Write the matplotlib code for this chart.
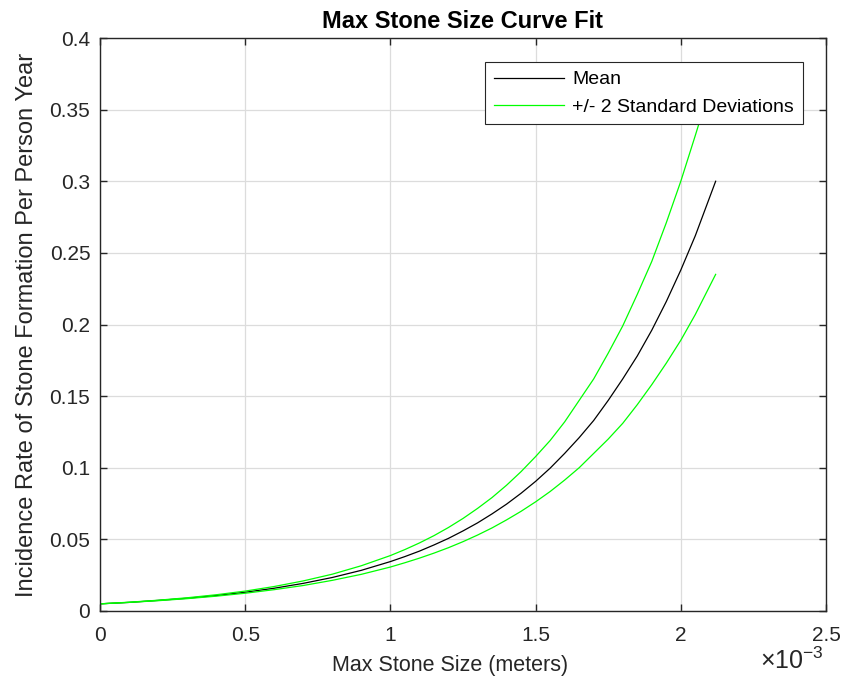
import matplotlib
matplotlib.use("Agg")
import matplotlib.pyplot as plt
from matplotlib.ticker import FuncFormatter

# Data (x in mm, converted to meters)
x_mm = [0, 0.1, 0.2, 0.3, 0.4, 0.5, 0.6, 0.7, 0.8, 0.9, 1.0, 1.05, 1.1, 1.15, 1.2,
        1.25, 1.3, 1.35, 1.4, 1.45, 1.5, 1.55, 1.6, 1.65, 1.7, 1.75, 1.8, 1.85,
        1.9, 1.95, 2.0, 2.05, 2.12]
mean_y = [0.0050, 0.0060, 0.0074, 0.0089, 0.0108, 0.0131, 0.0159, 0.0193, 0.0234,
          0.0284, 0.0345, 0.0380, 0.0418, 0.0461, 0.0507, 0.0559, 0.0615, 0.0678,
          0.0746, 0.0822, 0.0905, 0.0997, 0.110, 0.121, 0.133, 0.147, 0.162,
          0.178, 0.196, 0.216, 0.238, 0.262, 0.300]
upper_y = [0.0050, 0.00614, 0.00753, 0.00924, 0.01134, 0.0139, 0.0171, 0.0210,
           0.0257, 0.0316, 0.0387, 0.0429, 0.0475, 0.0526, 0.0583, 0.0646, 0.0716,
           0.0792, 0.0878, 0.0973, 0.1078, 0.119, 0.132, 0.147, 0.162, 0.180,
           0.199, 0.221, 0.244, 0.271, 0.300, 0.332, 0.378]
lower_y = [0.0050, 0.0060, 0.00719, 0.00862, 0.01034, 0.0124, 0.0149, 0.0178,
           0.0214, 0.0256, 0.0307, 0.0337, 0.0369, 0.0404, 0.0442, 0.0484, 0.0530,
           0.0580, 0.0636, 0.0696, 0.0762, 0.0834, 0.0914, 0.100, 0.110, 0.120,
           0.131, 0.144, 0.158, 0.173, 0.189, 0.207, 0.235]
x_m = [v * 1e-3 for v in x_mm]

xticks = [0, 0.5e-3, 1.0e-3, 1.5e-3, 2.0e-3, 2.5e-3]
yticks = [0, 0.05, 0.1, 0.15, 0.2, 0.25, 0.3, 0.35, 0.4]

plt.rcParams['font.family'] = ['Liberation Sans', 'DejaVu Sans']
plt.rcParams['mathtext.fontset'] = 'custom'
plt.rcParams['mathtext.rm'] = 'Liberation Sans'
plt.rcParams['mathtext.it'] = 'Liberation Sans'
plt.rcParams['mathtext.default'] = 'rm'

TXT = '#262626'
fig = plt.figure(figsize=(8.44, 6.83), dpi=100)
ax = fig.add_axes([100/844, 72/683, 726/844, 573/683])

ax.plot(x_m, mean_y, color='black', lw=0.9, label='Mean')
ax.plot(x_m, upper_y, color='#00ff00', lw=0.9, label='+/- 2 Standard Deviations')
ax.plot(x_m, lower_y, color='#00ff00', lw=0.9)

ax.set_xlim(0, 2.5e-3)
ax.set_ylim(0, 0.4)
ax.set_xticks(xticks)
ax.set_yticks(yticks)
ax.xaxis.set_major_formatter(FuncFormatter(lambda v, p: f"{v*1e3:g}"))
ax.yaxis.set_major_formatter(FuncFormatter(lambda v, p: f"{v:g}"))

ax.grid(True, color='#dcdcdc', lw=0.9)
ax.set_axisbelow(True)
ax.tick_params(direction='in', top=True, right=True, length=5, width=1.0,
               colors=TXT, labelsize=15)
ax.tick_params(axis='y', pad=7)
ax.tick_params(axis='x', pad=11)
for s in ax.spines.values():
    s.set_color(TXT)
    s.set_linewidth(1.0)

fig.text(463/844, 1 - 28/683, 'Max Stone Size Curve Fit', ha='center',
         va='baseline', fontsize=17, fontweight='bold', color='black')
fig.text(450/844, 1 - 665/683, 'Max Stone Size (meters)', ha='center',
         va='center', fontsize=15.5, color=TXT)
fig.text(27/844, 1 - 325/683, 'Incidence Rate of Stone Formation Per Person Year',
         ha='center', va='center', rotation=90, fontsize=17, color=TXT)
fig.text(824/844, 1 - 669/683, r'$\times10^{-3}$', ha='right', va='baseline',
         fontsize=18, color=TXT)

leg = ax.legend(loc='upper right', bbox_to_anchor=(803/844, 1 - 62/683),
                bbox_transform=fig.transFigure, fontsize=14, frameon=True,
                fancybox=False, edgecolor=TXT, handlelength=3.6, framealpha=1,
                borderaxespad=0, handletextpad=0.45, labelspacing=0.5,
                borderpad=0.45)
leg.get_frame().set_linewidth(0.8)

fig.savefig('out.png', dpi=100)
